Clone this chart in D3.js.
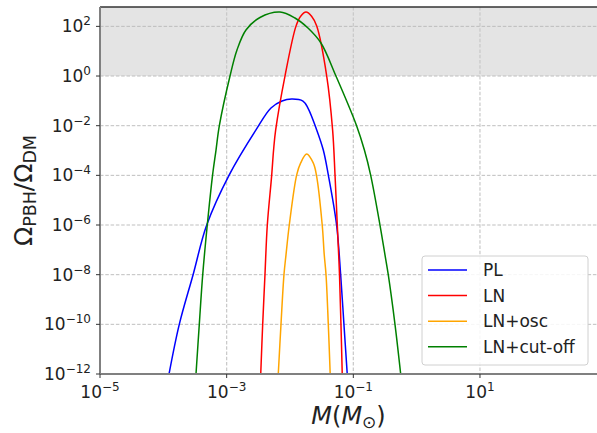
<!DOCTYPE html>
<html>
<head>
<meta charset="utf-8">
<script src="https://cdn.jsdelivr.net/npm/d3@7"></script>
<style>
  body { margin: 0; background: #fff; }
  text { font-family: "DejaVu Sans", sans-serif; }
</style>
</head>
<body>
<div id="plot"></div>
<script>
// Data (log10 of mass in solar masses, log10 of Omega_PBH/Omega_DM)
// ==================================================================
const plLogM = [-3.91, -3.748, -3.53, -3.315, -2.963, -2.537, -2.30, -2.126, -1.973, -1.795, -1.716, -1.578, -1.474, -1.395, -1.264, -1.20, -1.148, -1.096];
const plLogO = [-12, -10, -8, -6, -4, -2.17, -1.288, -1.006, -0.926, -1.006, -1.29, -2.17, -2.98, -3.98, -6, -8, -10, -12];

const lnLogM = [-2.462, -2.431, -2.395, -2.358, -2.289, -2.259, -2.226, -2.079, -1.905, -1.831, -1.747, -1.659, -1.578, -1.42, -1.327, -1.289, -1.253, -1.218, -1.195, -1.175];
const lnLogO = [-12, -10, -8, -6, -4, -2.98, -2.17, 0, 2.01, 2.41, 2.575, 2.41, 2.01, 0, -2.17, -3.98, -6, -8, -10, -12];

const oscLogM = [-2.185, -2.142, -2.095, -2.063, -2.011, -1.894, -1.831, -1.737, -1.633, -1.583, -1.491, -1.459, -1.431, -1.395, -1.365];
const oscLogO = [-12, -10, -8, -7.2, -6, -3.98, -3.5, -3.14, -3.5, -3.98, -6, -7.2, -8, -10, -12];

const cutLogM = [-3.484, -3.432, -3.378, -3.306, -3.222, -3.168, -3.116, -2.947, -2.837, -2.695, -2.474, -2.158, -1.921, -1.716, -1.511, -1.274, -0.947, -0.825, -0.727, -0.579, -0.50, -0.448, -0.342, -0.252];
const cutLogO = [-12, -10, -8, -6, -3.98, -2.98, -2.01, 0, 1.048, 1.854, 2.357, 2.575, 2.337, 1.934, 1.33, 0, -2.01, -2.98, -3.98, -6, -7.2, -8, -10, -12];

const seriesNames = ["PL", "LN", "LN+osc", "LN+cut-off"];
const seriesColors = ["blue", "red", "orange", "green"];

const xTickExp = [-5, -3, -1, 1];
const yTickExp = [-12, -10, -8, -6, -4, -2, 0, 2];

const xDomainExp = [-5, 2.848];
const yDomainExp = [-12, 2.78];
const shadeFromExp = 0;

const margin = {top: 7, right: 0, bottom: 59, left: 100},
    W = 597, H = 433,
    width = W - margin.left - margin.right,
    height = H - margin.top - margin.bottom;

// Scales
// ==================================================================
let xScale = d3.scaleLog()
    .domain(xDomainExp.map(e => Math.pow(10, e)))
    .range([0, width]);

let yScale = d3.scaleLog()
    .domain(yDomainExp.map(e => Math.pow(10, e)))
    .range([height, 0]);

// Svg
// ==================================================================
let svgRoot = d3.select("#plot")
    .append("svg")
        .attr("width", W)
        .attr("height", H);

let svg = svgRoot.append("g")
    .attr("transform", "translate(" + margin.left + "," + margin.top + ")");

svgRoot.append("defs").append("clipPath")
    .attr("id", "clip")
    .append("rect")
        .attr("width", width)
        .attr("height", height);

// shaded excluded region
svg.append("rect")
    .attr("x", 0)
    .attr("y", 0)
    .attr("width", width)
    .attr("height", yScale(Math.pow(10, shadeFromExp)))
    .attr("fill", "#e4e4e4");

// grid
svg.selectAll("line.hgrid")
    .data(yTickExp)
    .enter()
    .append("line")
        .attr("class", "hgrid")
        .attr("x1", 0)
        .attr("x2", width)
        .attr("y1", d => yScale(Math.pow(10, d)))
        .attr("y2", d => yScale(Math.pow(10, d)))
        .attr("stroke", "#b8b8b8")
        .attr("stroke-width", 0.9)
        .attr("stroke-dasharray", "3.5,1.8");

svg.selectAll("line.vgrid")
    .data(xTickExp)
    .enter()
    .append("line")
        .attr("class", "vgrid")
        .attr("y1", 0)
        .attr("y2", height)
        .attr("x1", d => xScale(Math.pow(10, d)))
        .attr("x2", d => xScale(Math.pow(10, d)))
        .attr("stroke", "#c8c8c8")
        .attr("stroke-width", 1.2)
        .attr("stroke-dasharray", "3.5,1.8");

// curves
const allM = [plLogM, lnLogM, oscLogM, cutLogM];
const allO = [plLogO, lnLogO, oscLogO, cutLogO];

let line = d3.line()
    .x(d => xScale(Math.pow(10, d[0])))
    .y(d => yScale(Math.pow(10, d[1])))
    .curve(d3.curveCatmullRom.alpha(0.5));

let curves = svg.append("g").attr("clip-path", "url(#clip)");
allM.forEach((m, i) => {
    curves.append("path")
        .datum(m.map((v, j) => [v, allO[i][j]]))
        .attr("fill", "none")
        .attr("stroke", seriesColors[i])
        .attr("stroke-width", 1.5)
        .attr("d", line);
});

// spines
svg.append("line")
    .attr("x1", 0).attr("x2", width)
    .attr("y1", 0).attr("y2", 0)
    .attr("stroke", "#333").attr("stroke-width", 1.5);
svg.append("line")
    .attr("x1", 0).attr("x2", 0)
    .attr("y1", 0).attr("y2", height)
    .attr("stroke", "#808080").attr("stroke-width", 2);
svg.append("line")
    .attr("x1", 0).attr("x2", width)
    .attr("y1", height).attr("y2", height)
    .attr("stroke", "#808080").attr("stroke-width", 2);

// ticks + labels
function powerLabel(sel, e) {
    sel.append("tspan").text("10");
    sel.append("tspan")
        .attr("dy", -7)
        .attr("font-size", "12px")
        .text(String(e).replace("-", "\u2212"));
}

xTickExp.forEach(e => {
    let x = xScale(Math.pow(10, e));
    svg.append("line")
        .attr("x1", x).attr("x2", x)
        .attr("y1", height).attr("y2", height + 4)
        .attr("stroke", "#333").attr("stroke-width", 1);
    svg.append("text")
        .attr("x", x)
        .attr("y", height + 24)
        .attr("text-anchor", "middle")
        .attr("font-size", "17px")
        .attr("fill", "#222")
        .call(powerLabel, e);
});

yTickExp.forEach(e => {
    let y = yScale(Math.pow(10, e));
    svg.append("line")
        .attr("x1", -4).attr("x2", 0)
        .attr("y1", y).attr("y2", y)
        .attr("stroke", "#333").attr("stroke-width", 1);
    svg.append("text")
        .attr("x", -9)
        .attr("y", y + 6)
        .attr("text-anchor", "end")
        .attr("font-size", "17px")
        .attr("fill", "#222")
        .call(powerLabel, e);
});

// axis titles
let xt = svgRoot.append("text")
    .attr("x", margin.left + width / 2)
    .attr("y", 424)
    .attr("text-anchor", "middle")
    .attr("font-size", "24px")
    .attr("fill", "#222");
xt.append("tspan").attr("font-style", "italic").text("M");
xt.append("tspan").text("(");
xt.append("tspan").attr("font-style", "italic").text("M");
xt.append("tspan").attr("dy", 4).attr("font-size", "17px").text("\u2299");
xt.append("tspan").attr("dy", -4).text(")");

let yt = svgRoot.append("text")
    .attr("transform", "translate(32," + (margin.top + height / 2) + ") rotate(-90)")
    .attr("text-anchor", "middle")
    .attr("font-size", "25px")
    .attr("fill", "#222");
yt.append("tspan").text("\u03A9");
yt.append("tspan").attr("dy", 4).attr("font-size", "17.5px").text("PBH");
yt.append("tspan").attr("dy", -4).text("/\u03A9");
yt.append("tspan").attr("dy", 4).attr("font-size", "17.5px").text("DM");

// legend
let legend = svgRoot.append("g")
    .attr("transform", "translate(422,256)");
legend.append("rect")
    .attr("width", 166)
    .attr("height", 109)
    .attr("rx", 3)
    .attr("fill", "white")
    .attr("fill-opacity", 0.85)
    .attr("stroke", "#d0d0d0");
seriesNames.forEach((name, i) => {
    let y = 14 + i * 25.6;
    legend.append("line")
        .attr("x1", 6).attr("x2", 45)
        .attr("y1", y).attr("y2", y)
        .attr("stroke", seriesColors[i])
        .attr("stroke-width", 1.5);
    legend.append("text")
        .attr("x", 61)
        .attr("y", y + 6)
        .attr("font-size", "17px")
        .attr("fill", "#222")
        .text(name);
});
</script>
</body>
</html>
